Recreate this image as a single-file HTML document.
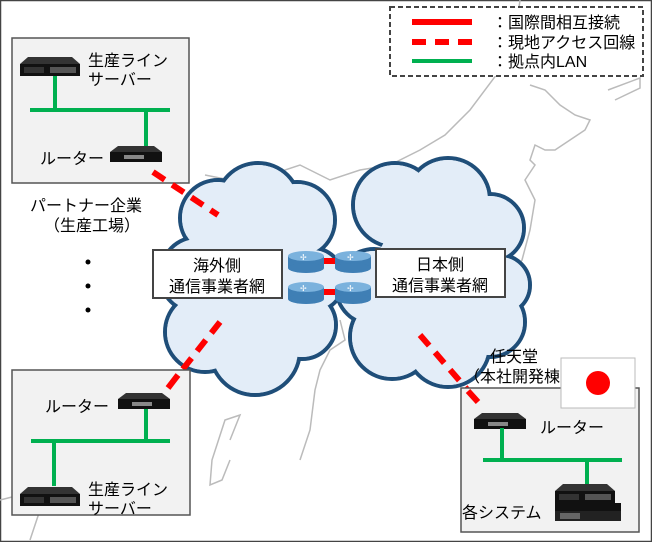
<!DOCTYPE html>
<html><head><meta charset="utf-8"><style>
html,body{margin:0;padding:0;background:#fff}
svg{display:block}
text{font-family:"Liberation Sans","Noto Sans CJK JP",sans-serif;font-size:16px;fill:#000}
</style></head><body>
<svg width="652" height="542" viewBox="0 0 652 542" xmlns="http://www.w3.org/2000/svg">
<defs>
<g id="srv">
<polygon points="8,0 52,0 60,7 0,7" fill="#333"/>
<rect x="0" y="7" width="60" height="12" fill="#111"/>
<rect x="30" y="10" width="26" height="6" fill="#555"/>
<rect x="4" y="10" width="20" height="6" fill="#333"/>
</g>
<g id="rtr">
<polygon points="8,0 44,0 52,6 0,6" fill="#333"/>
<rect x="0" y="6" width="52" height="10" fill="#111"/>
<rect x="14" y="9" width="20" height="4" fill="#888"/>
</g>
<g id="brt">
<rect x="0" y="6" width="36" height="12" fill="#3f7fb5"/>
<ellipse cx="18" cy="18" rx="18" ry="5" fill="#3f7fb5"/>
<ellipse cx="18" cy="6" rx="18" ry="5" fill="#7bb2dd"/>
<text x="12" y="10" style="font-size:8px;fill:#fff">✢</text>
</g>
</defs>
<rect x="0.5" y="0.5" width="651" height="541" fill="#fff" stroke="#444" stroke-width="1.5"/>
<g fill="none" stroke="#bbb" stroke-width="1.5">
<path d="M520,0 L515,40 L500,70 L470,110 L445,135 L420,150 L390,165 L360,170 L330,180 L300,165 L270,175 L250,170 L230,180 L205,175"/>
<path d="M530,85 L545,90 L560,105 L575,115 L590,120 L585,130 L570,140 L555,150 L545,150 L535,145 L530,160 L535,165 L525,180 L535,200 L530,230 L522,260 L515,270"/>
<path d="M608,90 L640,78 L640,88 L615,100"/>
<path d="M340,320 L345,340 L330,350 L320,370 L315,390 L310,430 L300,460"/>
<path d="M230,440 L240,415 L225,420 L212,460 L210,485 L222,480 L230,460"/>
<path d="M0,500 L20,495 L40,510 L30,540"/>
</g>
<rect x="390" y="7" width="253" height="69" fill="#fff" stroke="#444" stroke-width="2" stroke-dasharray="5,3"/>
<line x1="412" y1="22" x2="472" y2="22" stroke="#f00" stroke-width="6"/>
<line x1="412" y1="42" x2="472" y2="42" stroke="#f00" stroke-width="6" stroke-dasharray="14,9"/>
<line x1="412" y1="61" x2="472" y2="61" stroke="#00b050" stroke-width="4"/>
<text x="492" y="28">：国際間相互接続</text>
<text x="492" y="48">：現地アクセス回線</text>
<text x="492" y="67">：拠点内LAN</text>
<g fill="#e3edf8" stroke="#1f4e79" stroke-width="4">
<circle cx="218" cy="218" r="38"/><circle cx="258" cy="205" r="42"/><circle cx="297" cy="220" r="38"/>
<circle cx="198" cy="275" r="38"/><circle cx="312" cy="280" r="32"/><circle cx="205" cy="332" r="40"/>
<circle cx="255" cy="350" r="45"/><circle cx="302" cy="325" r="34"/>
<circle cx="395" cy="205" r="42"/><circle cx="448" cy="200" r="42"/><circle cx="490" cy="228" r="34"/>
<circle cx="374" cy="287" r="38"/><circle cx="500" cy="285" r="30"/><circle cx="392" cy="337" r="42"/>
<circle cx="448" cy="345" r="42"/><circle cx="490" cy="322" r="35"/>
</g>
<g fill="#e3edf8">
<circle cx="218" cy="218" r="36"/><circle cx="258" cy="205" r="40"/><circle cx="297" cy="220" r="36"/>
<circle cx="198" cy="275" r="36"/><circle cx="312" cy="280" r="30"/><circle cx="205" cy="332" r="38"/>
<circle cx="255" cy="350" r="43"/><circle cx="302" cy="325" r="32"/><circle cx="255" cy="275" r="65"/>
<circle cx="395" cy="205" r="40"/><circle cx="448" cy="200" r="40"/><circle cx="490" cy="228" r="32"/>
<circle cx="374" cy="287" r="36"/><circle cx="500" cy="285" r="28"/><circle cx="392" cy="337" r="40"/>
<circle cx="448" cy="345" r="40"/><circle cx="490" cy="322" r="33"/><circle cx="440" cy="275" r="65"/>
</g>
<rect x="12" y="38" width="177" height="145" fill="#f2f2f2" stroke="#555" stroke-width="1.5"/>
<use href="#srv" x="20" y="57"/>
<text x="88" y="66">生産ライン</text><text x="88" y="85">サーバー</text>
<g stroke="#00b050" stroke-width="4"><line x1="55" y1="76" x2="55" y2="110"/><line x1="30" y1="110" x2="170" y2="110"/><line x1="146" y1="110" x2="146" y2="147"/></g>
<use href="#rtr" x="110" y="146"/>
<text x="40" y="164">ルーター</text>
<line x1="153" y1="172" x2="218" y2="215" stroke="#f00" stroke-width="6" stroke-dasharray="14,9"/>
<text x="30" y="211">パートナー企業</text><text x="44" y="231">（生産工場）</text>
<circle cx="88" cy="262" r="2.5" fill="#000"/><circle cx="88" cy="286" r="2.5" fill="#000"/><circle cx="88" cy="310" r="2.5" fill="#000"/>
<rect x="153" y="250" width="129" height="48" fill="#fff" stroke="#444" stroke-width="2"/>
<text x="217" y="271" text-anchor="middle">海外側</text><text x="217" y="292" text-anchor="middle">通信事業者網</text>
<rect x="376" y="249" width="129" height="48" fill="#fff" stroke="#444" stroke-width="2"/>
<text x="440" y="270" text-anchor="middle">日本側</text><text x="440" y="291" text-anchor="middle">通信事業者網</text>
<line x1="320" y1="261" x2="338" y2="261" stroke="#f00" stroke-width="6"/>
<line x1="320" y1="292" x2="338" y2="292" stroke="#f00" stroke-width="6"/>
<use href="#brt" x="288" y="250"/><use href="#brt" x="335" y="250"/>
<use href="#brt" x="288" y="281"/><use href="#brt" x="335" y="281"/>
<line x1="220" y1="322" x2="168" y2="388" stroke="#f00" stroke-width="6" stroke-dasharray="14,9"/>
<rect x="12" y="370" width="178" height="145" fill="#f2f2f2" stroke="#555" stroke-width="1.5"/>
<line x1="178" y1="375" x2="168" y2="388" stroke="#f00" stroke-width="6"/>
<use href="#rtr" x="118" y="393"/>
<text x="45" y="412">ルーター</text>
<g stroke="#00b050" stroke-width="4"><line x1="146" y1="409" x2="146" y2="441"/><line x1="31" y1="441" x2="170" y2="441"/><line x1="54" y1="441" x2="54" y2="486"/></g>
<use href="#srv" x="20" y="487"/>
<text x="88" y="495">生産ライン</text><text x="88" y="514">サーバー</text>
<line x1="420" y1="335" x2="478" y2="402" stroke="#f00" stroke-width="6" stroke-dasharray="14,9"/>
<rect x="461" y="388" width="178" height="144" fill="#f2f2f2" stroke="#555" stroke-width="1.5"/>
<line x1="468" y1="391" x2="478" y2="402" stroke="#f00" stroke-width="6"/>
<text x="490" y="362">任天堂</text><text x="464" y="382">（本社開発棟）</text>
<rect x="561" y="358" width="74" height="50" fill="#fff" stroke="#bbb" stroke-width="1"/>
<circle cx="598" cy="383" r="12" fill="#f00"/>
<use href="#rtr" x="474" y="413"/>
<text x="540" y="433">ルーター</text>
<g stroke="#00b050" stroke-width="4"><line x1="502" y1="428" x2="502" y2="460"/><line x1="483" y1="460" x2="622" y2="460"/><line x1="587" y1="460" x2="587" y2="485"/></g>
<use href="#srv" x="555" y="484"/>
<rect x="555" y="503" width="66" height="8" fill="#111"/>
<rect x="555" y="511" width="66" height="10" fill="#222"/><rect x="560" y="513" width="20" height="6" fill="#666"/>
<text x="462" y="518">各システム</text>
</svg>
</body></html>
